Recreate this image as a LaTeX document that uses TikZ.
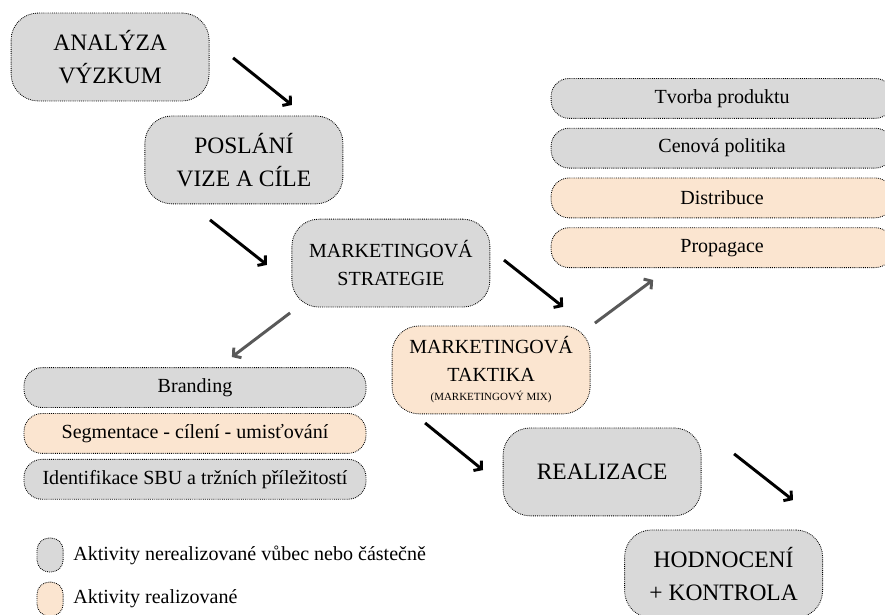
\documentclass[tikz,border=0pt]{standalone}
\usepackage{fontspec}
\setmainfont{Liberation Serif}
\usetikzlibrary{arrows.meta, positioning}
\definecolor{boxgray}{HTML}{D9D9D9}
\definecolor{boxpeach}{HTML}{FBE5D0}
\definecolor{arrgray}{HTML}{595959}

\begin{document}
\begin{tikzpicture}[>={Straight Barb[length=5pt,width=12pt]},
  bx/.style={draw, densely dotted, line width=0.8pt, rounded corners=0.9cm, minimum width=6.6cm, minimum height=2.93cm, align=center},
  big/.style={bx, font=\fontsize{22.3}{31}\selectfont},
  mid/.style={bx, font=\fontsize{19}{26.5}\selectfont},
  li/.style={draw, densely dotted, line width=0.8pt, rounded corners=0.6cm, minimum width=11.4cm, minimum height=1.33cm, font=\fontsize{19}{23}\selectfont},
  lg/.style={draw, densely dotted, line width=0.8pt, rounded corners=0.4cm, minimum width=0.87cm, minimum height=1.13cm, inner sep=0pt},
  arr/.style={->, line width=2.8pt},
  garr/.style={arr, draw=arrgray}]
\clip (0,0) rectangle (29.5,-20.5);
% main chain
\node[big, fill=boxgray]  (anal)  at (3.67,-1.9)    {ANALÝZA\\VÝZKUM};
\node[big, fill=boxgray]  (posl)  at (8.13,-5.33)   {POSLÁNÍ\\VIZE A CÍLE};
\node[mid, fill=boxgray]  (strat) at (13.03,-8.77)  {MARKETINGOVÁ\\STRATEGIE};
\node[mid, fill=boxpeach] (takt)  at (16.37,-12.33) {MARKETINGOVÁ\\TAKTIKA\\[-8.5pt]{\fontsize{10.4}{12}\selectfont (MARKETINGOVÝ MIX)}};
\node[big, fill=boxgray]  (real)  at (20.07,-15.73) {REALIZACE};
\node[big, fill=boxgray]  (hodn)  at (24.12,-19.13) {HODNOCENÍ\\+ KONTROLA};
% marketing mix
\node[li, fill=boxgray]  (prod) at (24.07,-3.28) {Tvorba produktu};
\node[li, fill=boxgray]  (cena) [below=0.3cm of prod] {Cenová politika};
\node[li, fill=boxpeach] (dist) [below=0.3cm of cena] {Distribuce};
\node[li, fill=boxpeach] (prop) [below=0.3cm of dist] {Propagace};
% strategy items
\node[li, fill=boxgray]  (brand) at (6.5,-12.92) {Branding};
\node[li, fill=boxpeach] (segm)  [below=0.17cm of brand] {Segmentace - cílení - umisťování};
\node[li, fill=boxgray]  (sbu)   [below=0.17cm of segm] {Identifikace SBU a tržních příležitostí};
% legend
\node[lg, fill=boxgray]  (lg1) at (1.67,-18.5) {};
\node[lg, fill=boxpeach] (lg2) at (1.67,-19.97) {};
\node[right=0.2cm of lg1, font=\fontsize{19}{23}\selectfont] (lt1) {Aktivity nerealizované vůbec nebo částečně};
\node[right=0.2cm of lg2, font=\fontsize{19}{23}\selectfont] (lt2) {Aktivity realizované};
% arrows
\coordinate (a1s) at (7.77,-1.93);   \coordinate (a1e) at (9.73,-3.5);
\coordinate (a2s) at (7.0,-7.33);    \coordinate (a2e) at (8.9,-8.83);
\coordinate (a3s) at (16.8,-8.67);   \coordinate (a3e) at (18.77,-10.23);
\coordinate (a4s) at (14.17,-14.1);  \coordinate (a4e) at (16.1,-15.67);
\coordinate (a5s) at (24.47,-15.13); \coordinate (a5e) at (26.43,-16.67);
\coordinate (g1s) at (9.67,-10.43);  \coordinate (g1e) at (7.73,-11.9);
\coordinate (g2s) at (19.83,-10.77); \coordinate (g2e) at (21.77,-9.33);
\draw[arr] (a1s) -- (a1e);
\draw[arr] (a2s) -- (a2e);
\draw[arr] (a3s) -- (a3e);
\draw[arr] (a4s) -- (a4e);
\draw[arr] (a5s) -- (a5e);
\draw[garr] (g1s) -- (g1e);
\draw[garr] (g2s) -- (g2e);
\end{tikzpicture}
\end{document}
